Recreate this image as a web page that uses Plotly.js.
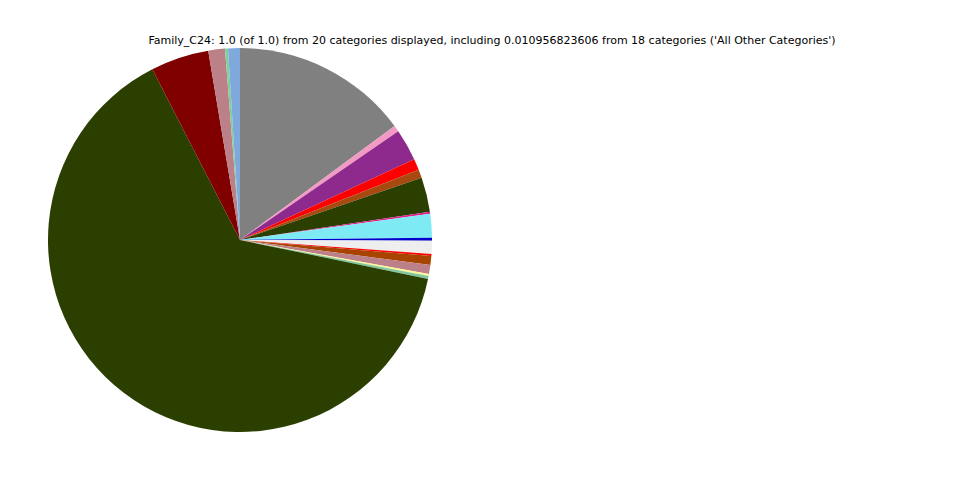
<!DOCTYPE html>
<html>
<head>
<meta charset="utf-8">
<script src="https://cdn.plot.ly/plotly-3.0.1.min.js"></script>
<style>html,body{margin:0;padding:0;background:#fff;}#chart{width:960px;height:480px;}</style>
</head>
<body>
<div id="chart"></div>
<script>
const labels = ["Cat_01","Cat_02","Cat_03","Cat_04","Cat_05","Cat_06","Cat_07","Cat_08","Cat_09","All Other Categories","Cat_11","Cat_12","Cat_13","Cat_14","Cat_15","Cat_16","Cat_17","Cat_18","Cat_19","Cat_20"];
const values = [0.149,0.0053,0.0267,0.0094,0.0072,0.029,0.0017,0.020,0.0025,0.010956823606,0.0017,0.0075,0.0075,0.0017,0.0025,0.6425,0.049,0.014,0.0025,0.010];
const colors = ["#808080","#f29ac4","#8e2a8e","#ff0000","#a84a10","#2b3f00","#e0208c","#7eeaf4","#0000cc","#eeeeee","#ff0000","#a84300","#bc8088","#fff59a","#80c89c","#2b3f00","#800000","#bc8088","#80d09c","#7fa8dc"];
const titleText = "Family_C24: 1.0 (of 1.0) from 20 categories displayed, including 0.010956823606 from 18 categories ('All Other Categories')";

Plotly.newPlot("chart", [{
  type: "pie",
  labels: labels,
  values: values,
  sort: false,
  direction: "clockwise",
  rotation: 0,
  textinfo: "none",
  hoverinfo: "label+value",
  marker: {colors: colors, line: {width: 0}},
  domain: {x: [48/960, 432/960], y: [48/480, 432/480]},
  showlegend: false
}], {
  width: 960, height: 480,
  margin: {l: 0, r: 0, t: 0, b: 0},
  paper_bgcolor: "#ffffff",
  showlegend: false,
  title: {
    text: titleText,
    font: {family: "DejaVu Sans", size: 11, color: "#000000"},
    x: 492/960, xref: "paper", xanchor: "center",
    y: 1 - 40/480, yref: "container", yanchor: "middle"
  }
}, {displayModeBar: false, staticPlot: true});
</script>
</body>
</html>
